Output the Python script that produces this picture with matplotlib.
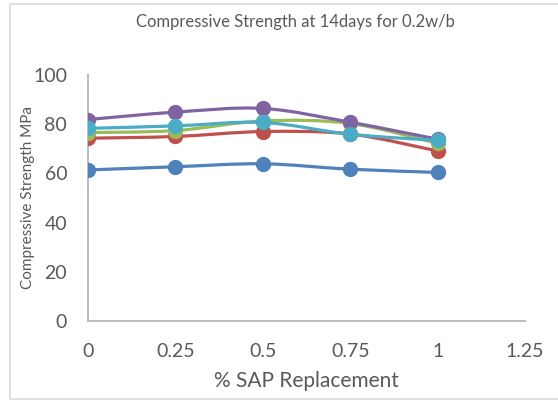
import matplotlib.pyplot as plt
from matplotlib.path import Path
from matplotlib.patches import PathPatch, Rectangle
import numpy as np

# % SAP replacement levels
sap = [0, 0.25, 0.5, 0.75, 1]

# Compressive strength (MPa) at 14 days, one list per mix
serie1 = [61.4, 62.7, 63.9, 61.7, 60.4]
serie2 = [74.3, 75.0, 77.0, 76.0, 69.1]
serie3 = [76.6, 77.4, 81.3, 80.3, 72.2]
serie4 = [81.9, 84.9, 86.4, 80.8, 73.9]
serie5 = [78.3, 79.3, 80.7, 75.9, 73.4]

series = [serie1, serie2, serie3, serie4, serie5]
cores = ['#4F81BD', '#C0504D', '#9BBB59', '#8064A2', '#4BACC6']

plt.rcParams['font.family'] = ['Lato', 'DejaVu Sans']


def curva_suave(xs, ys):
    # Curva Bezier passando pelos pontos (estilo linha suavizada)
    pts = np.column_stack([xs, ys])
    n = len(pts)
    verts = [pts[0]]
    codes = [Path.MOVETO]
    for i in range(n - 1):
        p0 = pts[max(i - 1, 0)]
        p1 = pts[i]
        p2 = pts[i + 1]
        p3 = pts[min(i + 2, n - 1)]
        c1 = p1 + (p2 - p0) / 6
        c2 = p2 - (p3 - p1) / 6
        verts += [c1, c2, p2]
        codes += [Path.CURVE4] * 3
    return Path(verts, codes)


fig = plt.figure(figsize=(5.58, 4.01), dpi=100)
ax = fig.add_axes([0.1577, 0.1995, 0.7832, 0.6135])

for valores, cor in zip(series, cores):
    ax.add_patch(PathPatch(curva_suave(sap, valores), facecolor='none',
                           edgecolor=cor, lw=2.3, capstyle='round'))
    ax.plot(sap, valores, 'o', color=cor, markersize=10, zorder=3)

ax.set_xlim(0, 1.25)
ax.set_ylim(0, 100)
ax.set_xticks([0, 0.25, 0.5, 0.75, 1, 1.25])
ax.set_xticklabels(['0', '0.25', '0.5', '0.75', '1', '1.25'])
ax.set_yticks(range(0, 101, 20))

for lado in ['top', 'right']:
    ax.spines[lado].set_visible(False)
for lado in ['left', 'bottom']:
    ax.spines[lado].set_color('#BFBFBF')
    ax.spines[lado].set_linewidth(1.5)

ax.tick_params(length=0, labelsize=14, labelcolor='#595959')
ax.tick_params(axis='y', pad=15)
ax.tick_params(axis='x', pad=16)

ax.set_xlabel('% SAP Replacement', fontsize=15, color='#595959', labelpad=8)
ax.set_ylabel('Compressive Strength MPa', fontsize=11, color='#595959')
ax.yaxis.set_label_coords(-0.121, 0.5)
fig.text(0.530, 0.945, 'Compressive Strength at 14days for 0.2w/b',
         ha='center', va='center', fontsize=12, color='#595959')

# Moldura da área do gráfico
fig.patches.append(Rectangle((10 / 558, 2 / 401), 1.2, 395 / 401,
                             transform=fig.transFigure, fill=False,
                             edgecolor='#D9D9D9', lw=1.2))

fig.savefig('out.png', dpi=100)
